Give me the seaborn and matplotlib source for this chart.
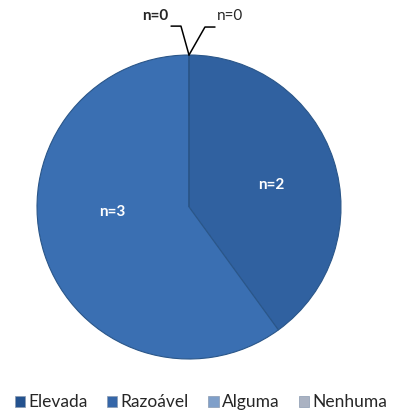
import matplotlib
matplotlib.use("Agg")
import matplotlib.pyplot as plt
import seaborn as sns
import numpy as np
from matplotlib.patches import Patch

sns.set_style("white")
plt.rcParams['font.family'] = ['Lato', 'DejaVu Sans']

categories = ["Elevada", "Razoável", "Alguma", "Nenhuma"]
counts = [2, 3, 0, 0]
labels = ["n=2", "n=3", "n=0", "n=0"]

slice_colors = ["#3061a0", "#3a6fb2", "#6f93c4", "#a3acbd"]
legend_colors = ["#24528f", "#3566a8", "#7f9fc9", "#aab2c2"]

fig = plt.figure(figsize=(4.02, 4.13), dpi=100)
ax = fig.add_axes([0, 0, 1, 1])

wedges, _ = ax.pie(counts, startangle=90, counterclock=False, colors=slice_colors,
                   radius=1.0, wedgeprops=dict(edgecolor="#2a5689", linewidth=0.8))

ax.set_xlim(-189 / 152, (402 - 189) / 152)
ax.set_ylim(-(413 - 207) / 152, 207 / 152)
ax.set_aspect("auto")
ax.axis("off")

# labels for non-zero slices
pos = {0: (0.54, 0.145), 1: (-0.507, -0.033)}
for i, p in pos.items():
    ax.text(p[0], p[1], labels[i], color="white", fontsize=11, fontweight="bold",
            ha="center", va="center")

# zero slices labels with leader lines
top = (0.0, 1.0)
ax.plot([top[0], -0.053, -0.118], [top[1], 1.19, 1.19], color="black", lw=1.1)
ax.plot([top[0], 0.105, 0.171], [top[1], 1.184, 1.184], color="black", lw=1.1)
ax.text(-0.135, 1.257, labels[2], fontsize=11, fontweight="bold", ha="right", va="center")
ax.text(0.185, 1.257, labels[3], fontsize=11, ha="left", va="center")

handles = [Patch(facecolor=c, edgecolor="#8a9ab0", linewidth=0.5) for c in legend_colors]
fig.legend(handles, categories, loc="center", bbox_to_anchor=(0.5, 0.026), ncol=4,
           frameon=False, fontsize=12.5, handlelength=0.6, handleheight=0.6,
           handletextpad=0.2, columnspacing=1.1)

fig.savefig("out.png", dpi=100)
